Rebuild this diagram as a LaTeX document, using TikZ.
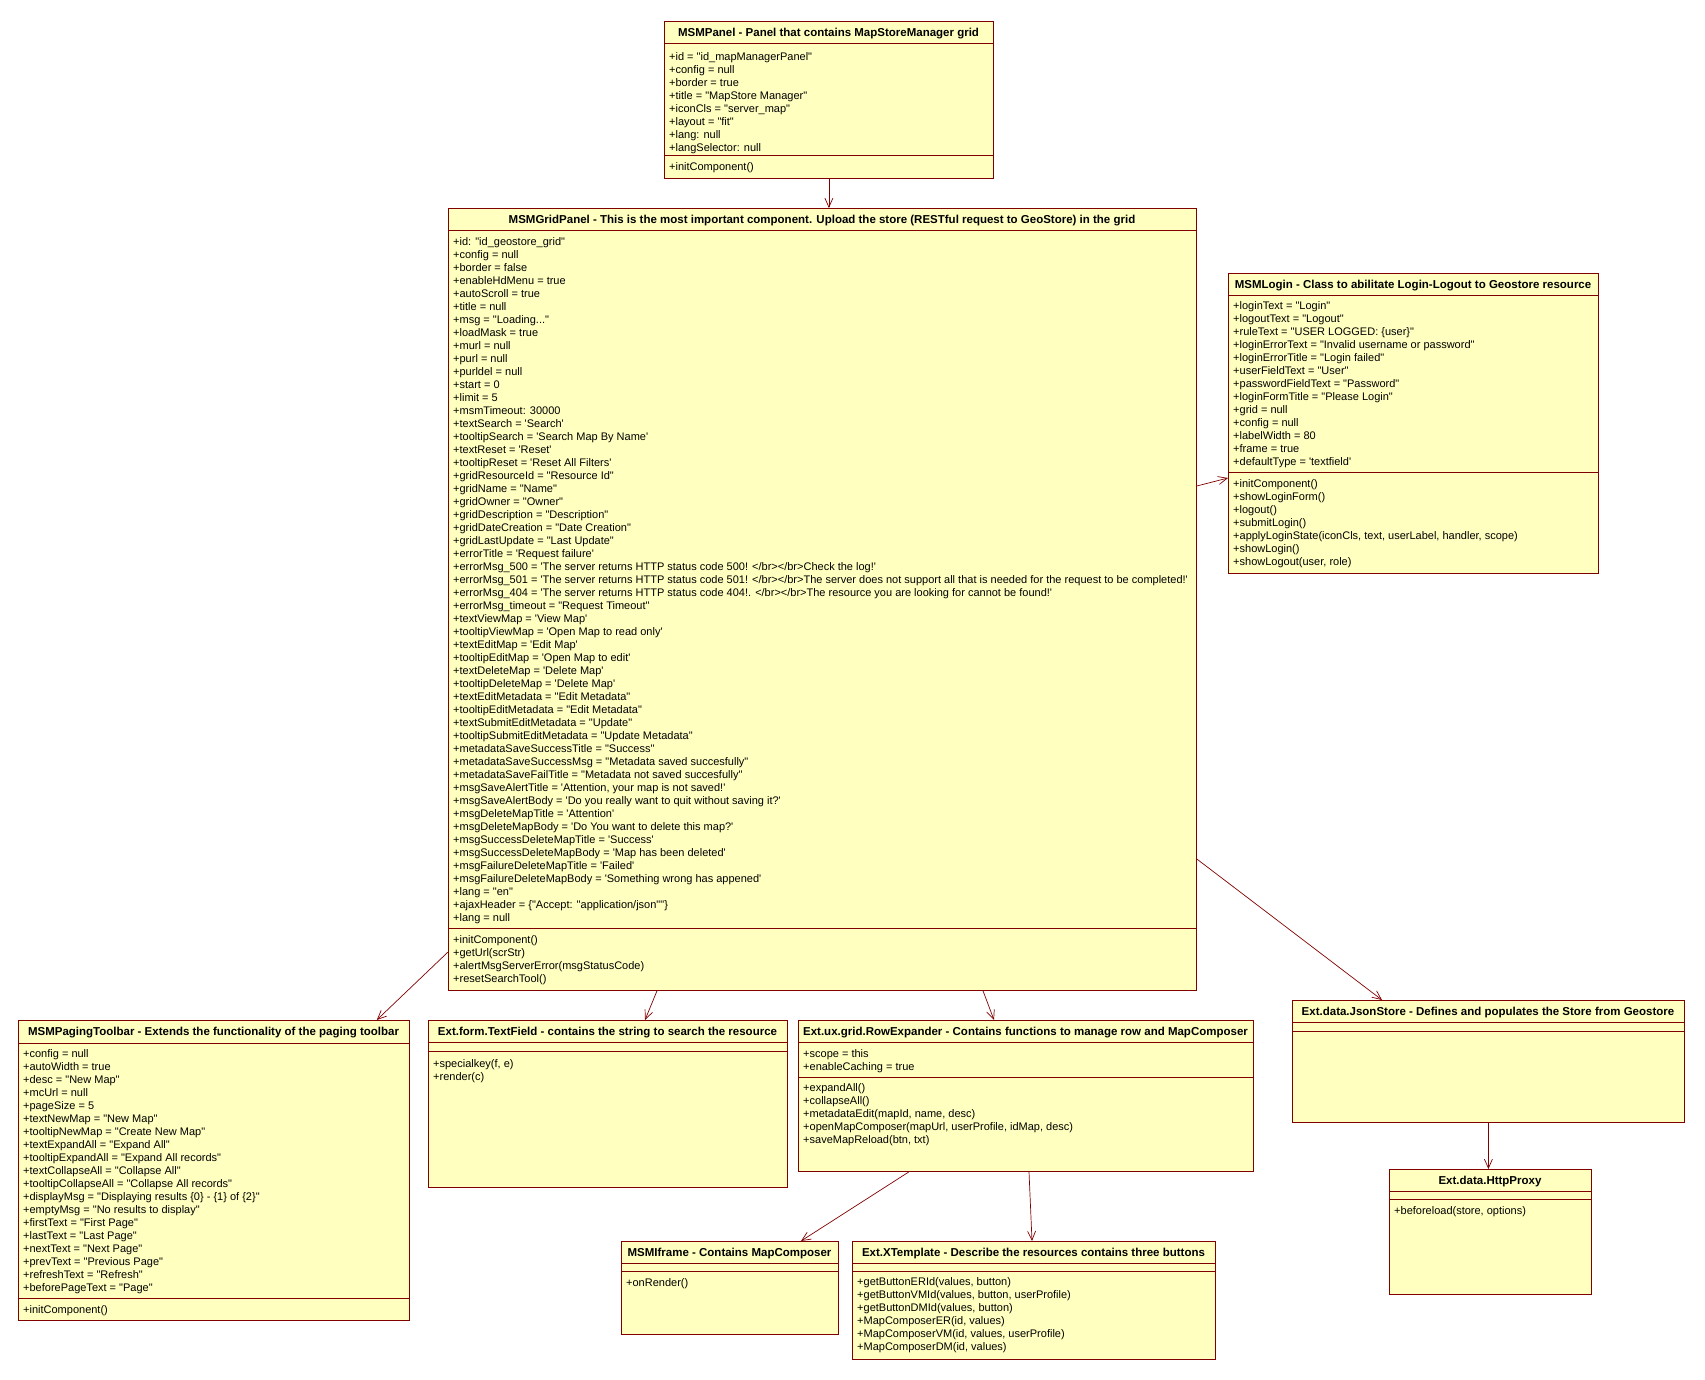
\documentclass[tikz,border=0pt]{standalone}
\usepackage{fontspec}
\setmainfont{Liberation Sans}[Ligatures=TeXOff]
\usetikzlibrary{arrows.meta}

\definecolor{umlred}{RGB}{128,0,0}
\definecolor{umlyellow}{RGB}{255,255,192}
\newcommand{\st}{\rule{0pt}{9.5pt}}

\tikzset{
  cls/.style={draw=umlred, fill=umlyellow, line width=0.8pt, anchor=north west, inner sep=0pt},
  ttl/.style={font=\bfseries\fontsize{11.5}{13}\selectfont, inner sep=0pt, anchor=base},
  txt/.style={font=\fontsize{11}{13}\selectfont, align=left, anchor=north west, inner sep=0pt},
  sep/.style={draw=umlred, line width=0.8pt},
  dep/.style={draw=umlred, line width=0.7pt, -{Straight Barb[length=9pt,width=8pt]}}
}

\begin{document}
\begin{tikzpicture}[x=1pt,y=-1pt]
	\useasboundingbox (0,0) rectangle (1705,1380);

	% MSMPanel
	\node (panel) [cls, minimum width=329pt, minimum height=157pt] at (664,21) {};
	\draw[sep] ([yshift=-22pt]panel.north west) -- ([yshift=-22pt]panel.north east);
	\draw[sep] ([yshift=-134pt]panel.north west) -- ([yshift=-134pt]panel.north east);
	\node (panelT) [ttl] at (828.5,36.2) {MSMPanel - Panel that contains MapStoreManager grid};
	\node (panelA) [txt] at (669,51.3) {\st+id = "id\_mapManagerPanel"\\ +config = null\\ +border = true\\
		+title = "MapStore Manager"\\ +iconCls = "server\_map"\\ +layout = "fit"\\ +lang: null\\ +langSelector: null};
	\node (panelM) [txt] at (669,160.6) {\st+initComponent()};

	% MSMGridPanel
	\node (grid) [cls, minimum width=748pt, minimum height=782pt] at (448,208) {};
	\draw[sep] ([yshift=-22pt]grid.north west) -- ([yshift=-22pt]grid.north east);
	\draw[sep] ([yshift=-720pt]grid.north west) -- ([yshift=-720pt]grid.north east);
	\node (gridT) [ttl] at (822,223.2) {MSMGridPanel - This is the most important component. Upload the store (RESTful request to GeoStore) in the grid};
	\node (gridA) [txt] at (453,235.3) {\st+id: "id\_geostore\_grid"\\ +config = null\\ +border = false\\ +enableHdMenu = true\\
		+autoScroll = true\\ +title = null\\ +msg = "Loading..."\\ +loadMask = true\\ +murl = null\\ +purl = null\\
		+purldel = null\\ +start = 0\\ +limit = 5\\ +msmTimeout: 30000\\ +textSearch = 'Search'\\
		+tooltipSearch = 'Search Map By Name'\\ +textReset = 'Reset'\\ +tooltipReset = 'Reset All Filters'\\
		+gridResourceId = "Resource Id"\\ +gridName = "Name"\\ +gridOwner = "Owner"\\ +gridDescription = "Description"\\
		+gridDateCreation = "Date Creation"\\ +gridLastUpdate = "Last Update"\\ +errorTitle = 'Request failure'\\
		+errorMsg\_500 = 'The server returns HTTP status code 500! </br></br>Check the log!'\\
		+errorMsg\_501 = 'The server returns HTTP status code 501! </br></br>The server does not support all that is needed for the request to be completed!'\\
		+errorMsg\_404 = 'The server returns HTTP status code 404!. </br></br>The resource you are looking for cannot be found!'\\
		+errorMsg\_timeout = "Request Timeout"\\ +textViewMap = 'View Map'\\ +tooltipViewMap = 'Open Map to read only'\\
		+textEditMap = 'Edit Map'\\ +tooltipEditMap = 'Open Map to edit'\\ +textDeleteMap = 'Delete Map'\\
		+tooltipDeleteMap = 'Delete Map'\\ +textEditMetadata = "Edit Metadata"\\ +tooltipEditMetadata = "Edit Metadata"\\
		+textSubmitEditMetadata = "Update"\\ +tooltipSubmitEditMetadata = "Update Metadata"\\
		+metadataSaveSuccessTitle = "Success"\\ +metadataSaveSuccessMsg = "Metadata saved succesfully"\\
		+metadataSaveFailTitle = "Metadata not saved succesfully"\\ +msgSaveAlertTitle = 'Attention, your map is not saved!'\\
		+msgSaveAlertBody = 'Do you really want to quit without saving it?'\\ +msgDeleteMapTitle = 'Attention'\\
		+msgDeleteMapBody = 'Do You want to delete this map?'\\ +msgSuccessDeleteMapTitle = 'Success'\\
		+msgSuccessDeleteMapBody = 'Map has been deleted'\\ +msgFailureDeleteMapTitle = 'Failed'\\
		+msgFailureDeleteMapBody = 'Something wrong has appened'\\ +lang = "en"\\
		+ajaxHeader = \{"Accept: "application/json""\}\\ +lang = null};
	\node (gridM) [txt] at (453,933.6) {\st+initComponent()\\ +getUrl(scrStr)\\ +alertMsgServerError(msgStatusCode)\\ +resetSearchTool()};

	% MSMLogin
	\node (login) [cls, minimum width=370pt, minimum height=300pt] at (1228,273) {};
	\draw[sep] ([yshift=-22pt]login.north west) -- ([yshift=-22pt]login.north east);
	\draw[sep] ([yshift=-199pt]login.north west) -- ([yshift=-199pt]login.north east);
	\node (loginT) [ttl] at (1413,288.2) {MSMLogin - Class to abilitate Login-Logout to Geostore resource};
	\node (loginA) [txt] at (1233,299.6) {\st+loginText = "Login"\\ +logoutText = "Logout"\\ +ruleText = "USER LOGGED: \{user\}"\\
		+loginErrorText = "Invalid username or password"\\ +loginErrorTitle = "Login failed"\\ +userFieldText = "User"\\
		+passwordFieldText = "Password"\\ +loginFormTitle = "Please Login"\\ +grid = null\\ +config = null\\
		+labelWidth = 80\\ +frame = true\\ +defaultType = 'textfield'};
	\node (loginM) [txt] at (1233,477.6) {\st+initComponent()\\ +showLoginForm()\\ +logout()\\ +submitLogin()\\
		+applyLoginState(iconCls, text, userLabel, handler, scope)\\ +showLogin()\\ +showLogout(user, role)};

	% MSMPagingToolbar
	\node (paging) [cls, minimum width=391pt, minimum height=300pt] at (18,1020) {};
	\draw[sep] ([yshift=-23pt]paging.north west) -- ([yshift=-23pt]paging.north east);
	\draw[sep] ([yshift=-278pt]paging.north west) -- ([yshift=-278pt]paging.north east);
	\node (pagingT) [ttl] at (213.5,1035.7) {MSMPagingToolbar - Extends the functionality of the paging toolbar};
	\node (pagingA) [txt] at (23,1047.3) {\st+config = null\\ +autoWidth = true\\ +desc = "New Map"\\ +mcUrl = null\\ +pageSize = 5\\
		+textNewMap = "New Map"\\ +tooltipNewMap = "Create New Map"\\ +textExpandAll = "Expand All"\\
		+tooltipExpandAll = "Expand All records"\\ +textCollapseAll = "Collapse All"\\ +tooltipCollapseAll = "Collapse All records"\\
		+displayMsg = "Displaying results \{0\} - \{1\} of \{2\}"\\ +emptyMsg = "No results to display"\\
		+firstText = "First Page"\\ +lastText = "Last Page"\\ +nextText = "Next Page"\\ +prevText = "Previous Page"\\
		+refreshText = "Refresh"\\ +beforePageText = "Page"};
	\node (pagingM) [txt] at (23,1303.6) {\st+initComponent()};

	% Ext.form.TextField
	\node (textfield) [cls, minimum width=359pt, minimum height=167pt] at (428,1020) {};
	\draw[sep] ([yshift=-22pt]textfield.north west) -- ([yshift=-22pt]textfield.north east);
	\draw[sep] ([yshift=-31pt]textfield.north west) -- ([yshift=-31pt]textfield.north east);
	\node (textfieldT) [ttl] at (607.5,1035.2) {Ext.form.TextField - contains the string to search the resource};
	\node (textfieldM) [txt] at (433,1057.6) {\st+specialkey(f, e)\\ +render(c)};

	% Ext.ux.grid.RowExpander
	\node (rowexp) [cls, minimum width=455pt, minimum height=151pt] at (798,1020) {};
	\draw[sep] ([yshift=-22pt]rowexp.north west) -- ([yshift=-22pt]rowexp.north east);
	\draw[sep] ([yshift=-57pt]rowexp.north west) -- ([yshift=-57pt]rowexp.north east);
	\node (rowexpT) [ttl] at (1025.5,1035.2) {Ext.ux.grid.RowExpander - Contains functions to manage row and MapComposer};
	\node (rowexpA) [txt] at (803,1047.6) {\st+scope = this\\ +enableCaching = true};
	\node (rowexpM) [txt] at (803,1081.6) {\st+expandAll()\\ +collapseAll()\\ +metadataEdit(mapId, name, desc)\\
		+openMapComposer(mapUrl, userProfile, idMap, desc)\\ +saveMapReload(btn, txt)};

	% Ext.data.JsonStore
	\node (jsonstore) [cls, minimum width=392pt, minimum height=122pt] at (1292,1000) {};
	\draw[sep] ([yshift=-22pt]jsonstore.north west) -- ([yshift=-22pt]jsonstore.north east);
	\draw[sep] ([yshift=-31pt]jsonstore.north west) -- ([yshift=-31pt]jsonstore.north east);
	\node (jsonstoreT) [ttl] at (1488,1015.2) {Ext.data.JsonStore - Defines and populates the Store from Geostore};

	% Ext.data.HttpProxy
	\node (proxy) [cls, minimum width=202pt, minimum height=125pt] at (1389,1169) {};
	\draw[sep] ([yshift=-22pt]proxy.north west) -- ([yshift=-22pt]proxy.north east);
	\draw[sep] ([yshift=-30pt]proxy.north west) -- ([yshift=-30pt]proxy.north east);
	\node (proxyT) [ttl] at (1490,1184.2) {Ext.data.HttpProxy};
	\node (proxyM) [txt] at (1394,1204.6) {\st+beforeload(store, options)};

	% MSMIframe
	\node (iframe) [cls, minimum width=217pt, minimum height=93pt] at (621,1241) {};
	\draw[sep] ([yshift=-22pt]iframe.north west) -- ([yshift=-22pt]iframe.north east);
	\draw[sep] ([yshift=-30pt]iframe.north west) -- ([yshift=-30pt]iframe.north east);
	\node (iframeT) [ttl] at (729.5,1256.2) {MSMIframe - Contains MapComposer};
	\node (iframeM) [txt] at (626,1276.6) {\st+onRender()};

	% Ext.XTemplate
	\node (xtpl) [cls, minimum width=363pt, minimum height=118pt] at (852,1241) {};
	\draw[sep] ([yshift=-22pt]xtpl.north west) -- ([yshift=-22pt]xtpl.north east);
	\draw[sep] ([yshift=-30pt]xtpl.north west) -- ([yshift=-30pt]xtpl.north east);
	\node (xtplT) [ttl] at (1033.5,1256.2) {Ext.XTemplate - Describe the resources contains three buttons};
	\node (xtplM) [txt] at (857,1275.6) {\st+getButtonERId(values, button)\\ +getButtonVMId(values, button, userProfile)\\
		+getButtonDMId(values, button)\\ +MapComposerER(id, values)\\ +MapComposerVM(id, values, userProfile)\\
		+MapComposerDM(id, values)};

	% connectors
	\draw[dep] (panel.south) -- (panel.south |- grid.north);
	\draw[dep] ([yshift=-278pt]grid.north east) -- ([yshift=-205pt]login.north west);
	\draw[dep] ([yshift=-651pt]grid.north east) -- ([xshift=90pt]jsonstore.north west);
	\draw[dep] ([yshift=-744pt]grid.north west) -- ([xshift=-33pt]paging.north east);
	\draw[dep] ([xshift=209pt]grid.south west) -- ([xshift=217pt]textfield.north west);
	\draw[dep] ([xshift=535pt]grid.south west) -- ([xshift=196pt]rowexp.north west);
	\draw[dep] ([xshift=111pt]rowexp.south west) -- ([xshift=180pt]iframe.north west);
	\draw[dep] ([xshift=231pt]rowexp.south west) -- ([xshift=180pt]xtpl.north west);
	\draw[dep] (jsonstore.south) -- (jsonstore.south |- proxy.north);
\end{tikzpicture}
\end{document}
